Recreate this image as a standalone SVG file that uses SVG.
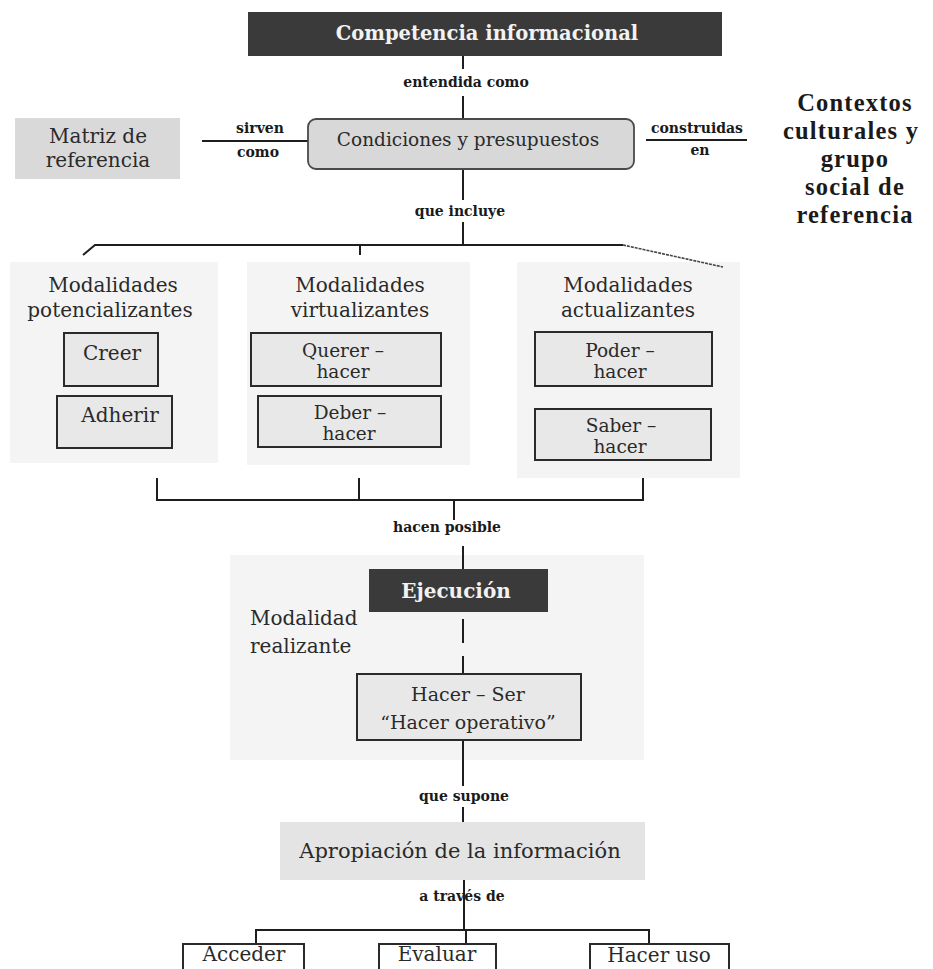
<svg xmlns="http://www.w3.org/2000/svg" width="933" height="969" viewBox="0 0 933 969">
  <style>
    .t { font-family: "DejaVu Serif", "Liberation Serif", serif; fill: #2a2a2a; text-anchor: middle; }
    .h { font-size: 20px; }
    .b { font-size: 20px; }
    .b2 { font-size: 18.5px; }
    .lbl { font-family: "DejaVu Serif", "Liberation Serif", serif; font-weight: bold; font-size: 14px; fill: #1a1a1a; text-anchor: middle; }
    .dark { fill: #3a3a3a; }
    .white { fill: #f2f2f2; font-weight: bold; }
    .panel { fill: #f4f4f4; }
    .box { fill: #e8e8e8; stroke: #2a2a2a; stroke-width: 2; }
    .wbox { fill: #ffffff; stroke: #2a2a2a; stroke-width: 2; }
    .ln { stroke: #1e1e1e; stroke-width: 2; fill: none; }
    .side { font-family: "Liberation Serif", "Times New Roman", serif; font-weight: bold; font-size: 24.5px; letter-spacing: 1.2px; fill: #1a1a1a; text-anchor: middle; }
  </style>

  <!-- light background panels for the modal groups -->
  <g id="panel-potencializantes">
    <rect class="panel" x="10" y="262" width="208" height="201"/>
    <text class="t h" x="113" y="292">Modalidades</text>
    <text class="t h" x="110" y="317">potencializantes</text>
  </g>
  <g id="panel-virtualizantes">
    <rect class="panel" x="247" y="262" width="223" height="203"/>
    <text class="t h" x="360" y="292">Modalidades</text>
    <text class="t h" x="360" y="317">virtualizantes</text>
  </g>
  <g id="panel-actualizantes">
    <rect class="panel" x="517" y="262" width="223" height="216"/>
    <text class="t h" x="628" y="292">Modalidades</text>
    <text class="t h" x="628" y="317">actualizantes</text>
  </g>
  <g id="panel-realizante">
    <rect class="panel" x="230" y="555" width="414" height="205"/>
    <text class="t h" x="250" y="625" style="text-anchor:start">Modalidad</text>
    <text class="t h" x="250" y="653" style="text-anchor:start">realizante</text>
  </g>

  <!-- connectors -->
  <g id="connectors">
    <!-- Competencia -> Condiciones -->
    <line class="ln" x1="463" y1="56" x2="463" y2="69"/>
    <line class="ln" x1="463" y1="96" x2="463" y2="119"/>
    <!-- Matriz -> Condiciones -->
    <line class="ln" x1="202" y1="141" x2="308" y2="141"/>
    <!-- Condiciones -> Contextos -->
    <line class="ln" x1="646" y1="140" x2="747" y2="140"/>
    <!-- Condiciones -> modal groups -->
    <line class="ln" x1="463" y1="169" x2="463" y2="200"/>
    <line class="ln" x1="463" y1="222" x2="463" y2="245"/>
    <polyline class="ln" points="83,255 95,245 623,245"/>
    <line x1="623" y1="245" x2="723" y2="267" stroke="#444" stroke-width="1.6" stroke-dasharray="3 1"/>
    <line class="ln" x1="360" y1="245" x2="360" y2="255"/>
    <!-- modal groups -> Ejecucion -->
    <polyline class="ln" points="157,478 157,500 643,500 643,478"/>
    <line class="ln" x1="359" y1="478" x2="359" y2="500"/>
    <line class="ln" x1="454" y1="500" x2="454" y2="520"/>
    <line class="ln" x1="463" y1="546" x2="463" y2="569"/>
    <!-- Ejecucion -> Hacer-Ser -->
    <line class="ln" x1="463" y1="619" x2="463" y2="643"/>
    <line class="ln" x1="463" y1="656" x2="463" y2="674"/>
    <!-- Hacer-Ser -> Apropiacion -->
    <line class="ln" x1="463" y1="740" x2="463" y2="786"/>
    <line class="ln" x1="463" y1="807" x2="463" y2="822"/>
    <!-- Apropiacion -> acciones -->
    <line class="ln" x1="464" y1="880" x2="464" y2="930"/>
    <polyline class="ln" points="256,944 256,930 649,930 649,944"/>
    <line class="ln" x1="466" y1="930" x2="466" y2="944"/>
  </g>

  <!-- connector labels -->
  <g id="labels">
    <text class="lbl" x="466" y="87">entendida como</text>
    <text class="lbl" x="260" y="133">sirven</text>
    <text class="lbl" x="258" y="157">como</text>
    <text class="lbl" x="697" y="133">construidas</text>
    <text class="lbl" x="700" y="155">en</text>
    <text class="lbl" x="460" y="216">que incluye</text>
    <text class="lbl" x="447" y="532">hacen posible</text>
    <text class="lbl" x="464" y="801">que supone</text>
    <text class="lbl" x="462" y="901">a través de</text>
  </g>

  <g id="competencia">
    <rect class="dark" x="248" y="12" width="474" height="44"/>
    <text class="t white" x="487" y="40" style="font-size:19.5px">Competencia informacional</text>
  </g>

  <g id="matriz">
    <rect x="15" y="118" width="165" height="61" fill="#d9d9d9"/>
    <text class="t b" x="98" y="143">Matriz de</text>
    <text class="t b" x="98" y="167">referencia</text>
  </g>

  <g id="condiciones">
    <rect x="308" y="119" width="326" height="50" rx="8" fill="#d8d8d8" stroke="#4a4a4a" stroke-width="1.8"/>
    <text class="t" x="468" y="146" style="font-size:18.5px">Condiciones y presupuestos</text>
  </g>

  <g id="contextos">
    <text class="side" x="855" y="111">Contextos</text>
    <text class="side" x="851" y="139">culturales y</text>
    <text class="side" x="855" y="167">grupo</text>
    <text class="side" x="855" y="195">social de</text>
    <text class="side" x="855" y="223">referencia</text>
  </g>

  <g id="creer">
    <rect class="box" x="64" y="333" width="94" height="53"/>
    <text class="t b" x="112" y="360">Creer</text>
  </g>
  <g id="adherir">
    <rect class="box" x="57" y="396" width="115" height="52"/>
    <text class="t b" x="120" y="422">Adherir</text>
  </g>
  <g id="querer-hacer">
    <rect class="box" x="251" y="333" width="190" height="53"/>
    <text class="t b2" x="343" y="357">Querer –</text>
    <text class="t b2" x="343" y="378">hacer</text>
  </g>
  <g id="deber-hacer">
    <rect class="box" x="258" y="396" width="183" height="51"/>
    <text class="t b2" x="350" y="419">Deber –</text>
    <text class="t b2" x="349" y="440">hacer</text>
  </g>
  <g id="poder-hacer">
    <rect class="box" x="535" y="332" width="177" height="54"/>
    <text class="t b2" x="620" y="357">Poder –</text>
    <text class="t b2" x="620" y="378">hacer</text>
  </g>
  <g id="saber-hacer">
    <rect class="box" x="535" y="409" width="176" height="51"/>
    <text class="t b2" x="621" y="432">Saber –</text>
    <text class="t b2" x="620" y="453">hacer</text>
  </g>

  <g id="ejecucion">
    <rect class="dark" x="369" y="569" width="179" height="43"/>
    <text class="t white" x="456" y="598" style="font-size:20px">Ejecución</text>
  </g>

  <g id="hacer-ser">
    <rect class="box" x="357" y="674" width="224" height="66"/>
    <text class="t" x="468" y="701" style="font-size:19px">Hacer – Ser</text>
    <text class="t" x="468" y="729" style="font-size:19px">“Hacer operativo”</text>
  </g>

  <g id="apropiacion">
    <rect x="280" y="822" width="365" height="58" fill="#e4e4e4"/>
    <text class="t" x="460" y="858" style="font-size:21px">Apropiación de la información</text>
  </g>

  <g id="acceder">
    <rect class="wbox" x="183" y="944" width="121" height="40"/>
    <text class="t" x="244" y="961" style="font-size:20px">Acceder</text>
  </g>
  <g id="evaluar">
    <rect class="wbox" x="379" y="944" width="117" height="40"/>
    <text class="t" x="437" y="961" style="font-size:20px">Evaluar</text>
  </g>
  <g id="hacer-uso">
    <rect class="wbox" x="590" y="944" width="139" height="40"/>
    <text class="t" x="659" y="962" style="font-size:20px">Hacer uso</text>
  </g>
</svg>
